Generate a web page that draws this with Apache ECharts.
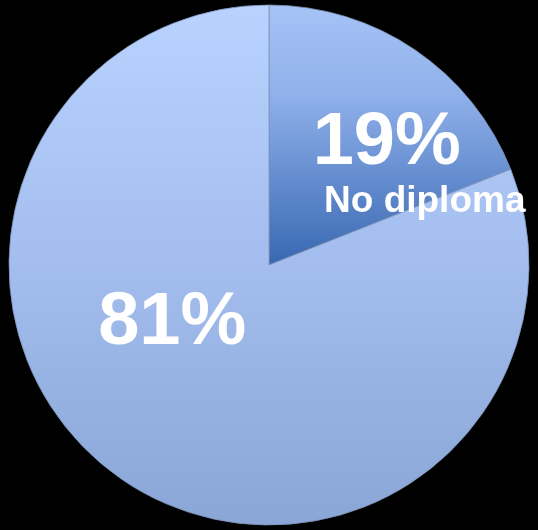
<!DOCTYPE html>
<html>
<head>
<meta charset="utf-8">
<script src="https://cdn.jsdelivr.net/npm/echarts@6/dist/echarts.min.js"></script>
<style>
html,body{margin:0;padding:0;background:#000;}
#c{width:538px;height:530px;}
</style>
</head>
<body>
<div id="c"></div>
<script>
const categories = ['No diploma', 'Diploma'];
const values = [19, 81];
const showName = [true, false];

const gradients = [
  [{offset:0,color:'#a6c3f6'},{offset:0.35,color:'#8fb0ea'},{offset:1,color:'#3868b2'}],
  [{offset:0,color:'#b9d3ff'},{offset:0.5,color:'#a2bdee'},{offset:1,color:'#89a6d6'}]
];

const chart = echarts.init(document.getElementById('c'), null, {renderer:'canvas'});
const total = values.reduce((a,b)=>a+b,0);
const labelShift = [[43, 12], [-22, -51]];

chart.setOption({
  backgroundColor: '#000000',
  animation: false,
  series: [{
    type: 'pie',
    center: [269, 265],
    radius: [0, 260],
    startAngle: 90,
    clockwise: true,
    silent: true,
    data: categories.map((name, i) => ({
      name: name,
      value: values[i],
      itemStyle: {
        color: {type:'linear', x:0, y:0, x2:0, y2:1, colorStops: gradients[i]},
        borderColor: '#7f93b8',
        borderWidth: 0.8
      }
    })),
    label: {
      show: true,
      position: 'inside',
      formatter: function (p) {
        const pct = Math.round(p.value / total * 100) + '%';
        return showName[p.dataIndex] ? '{big|' + pct + '}\n{small|' + p.name + '}' : '{big|' + pct + '}';
      },
      rich: {
        big: {
          color: '#ffffff', fontFamily: 'Liberation Sans, Arial, sans-serif',
          fontWeight: 'bold', fontSize: 74, lineHeight: 70
        },
        small: {
          color: '#ffffff', fontFamily: 'Liberation Sans, Arial, sans-serif',
          fontWeight: 'bold', fontSize: 37, lineHeight: 46, padding: [0, 0, 0, 76]
        }
      }
    },
    labelLine: {show: false},
    labelLayout: function (params) {
      const s = labelShift[params.dataIndex];
      return {dx: s[0], dy: s[1]};
    }
  }]
});
</script>
</body>
</html>
